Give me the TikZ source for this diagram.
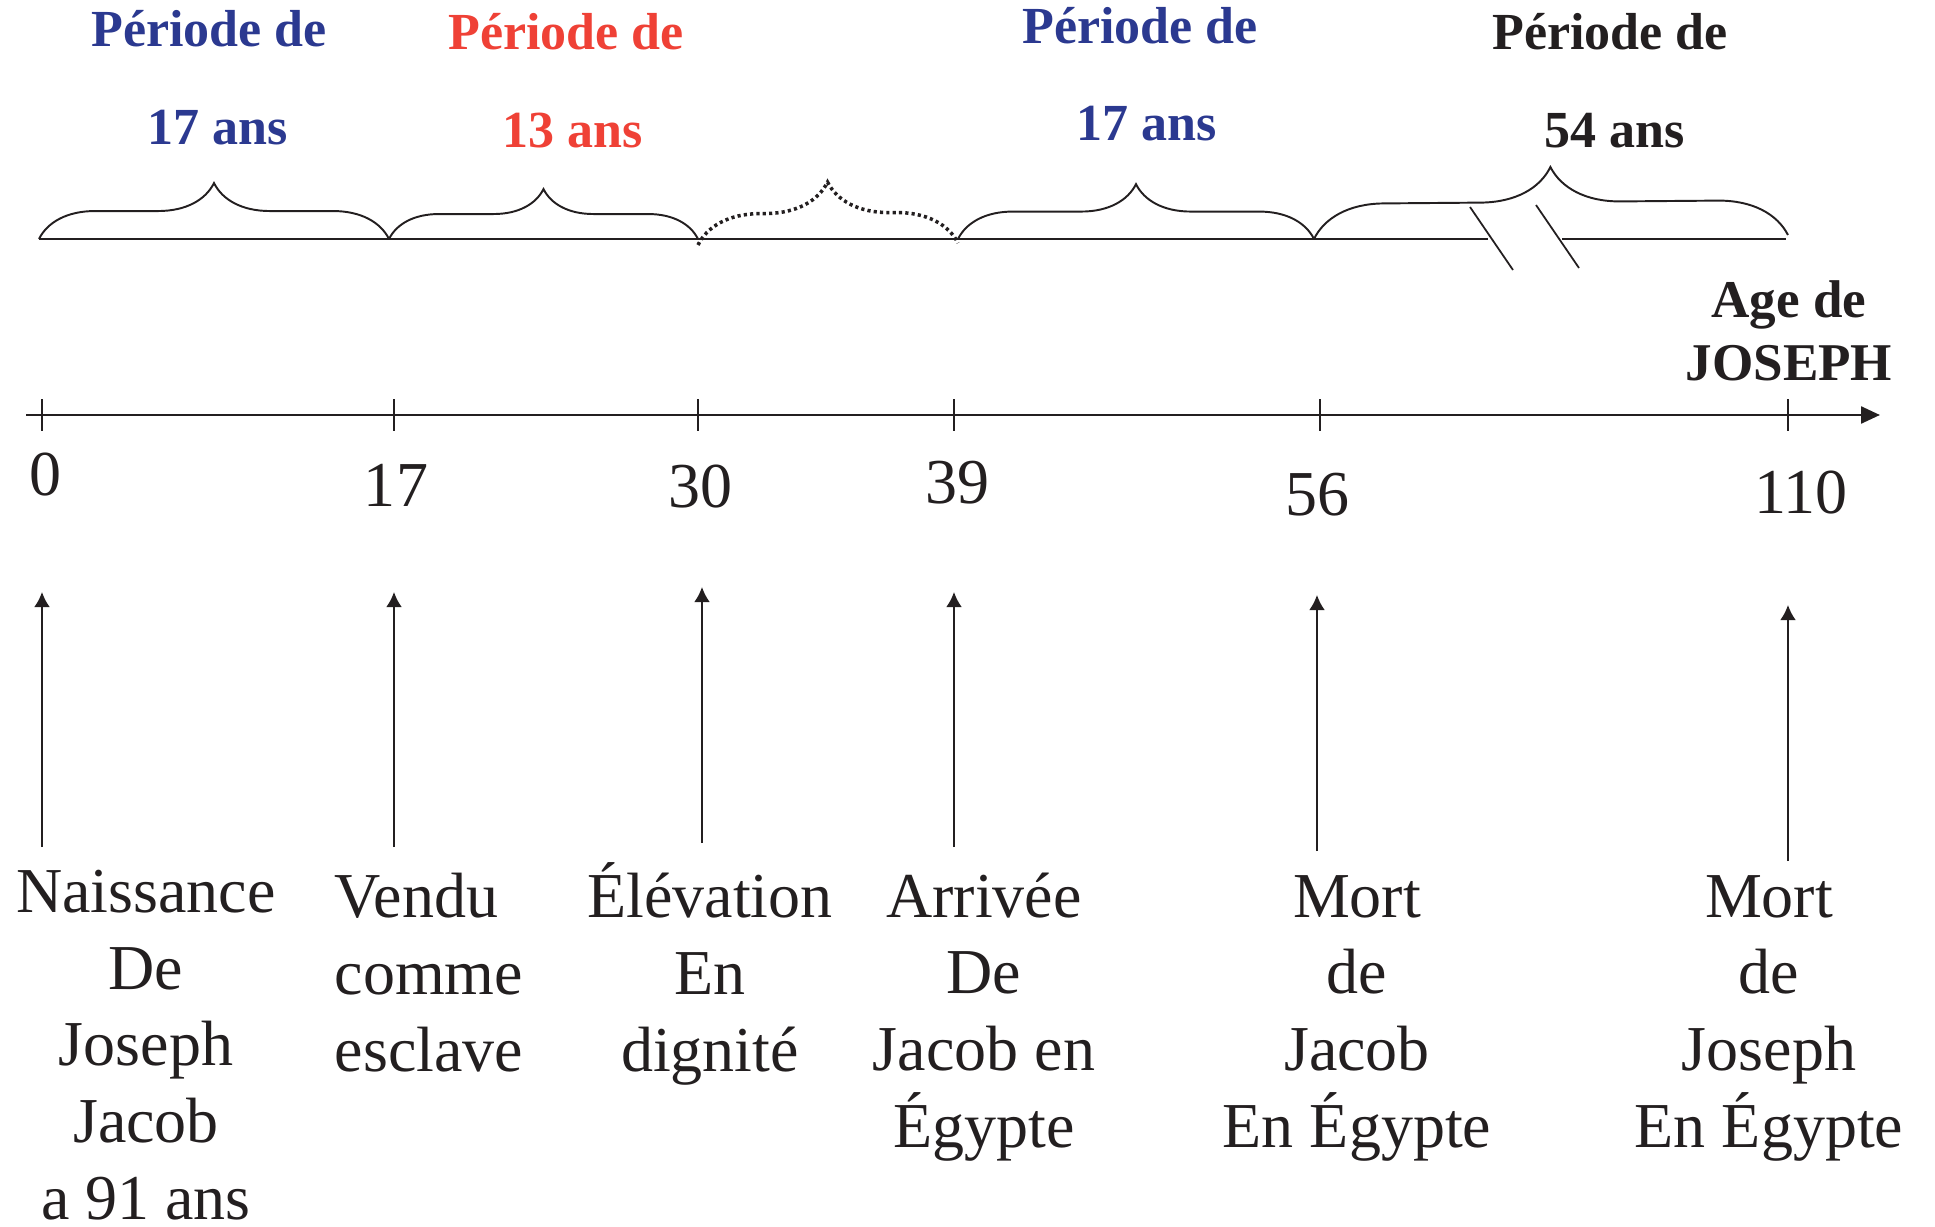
\documentclass[tikz,border=0pt]{standalone}
\usepackage{fontspec}
\setmainfont{Liberation Serif}
\usetikzlibrary{arrows.meta,decorations.pathreplacing}
\definecolor{perblue}{RGB}{43,57,144}
\definecolor{perred}{RGB}{239,65,54}
\definecolor{inkblack}{RGB}{35,31,32}

\begin{document}
\begin{tikzpicture}[x=0.01cm, y=-0.01cm, inkblack,
    every node/.style={inner sep=0pt, text=inkblack},
    period/.style={font=\bfseries\fontsize{14.8}{17}\selectfont, anchor=base},
    event/.style={font=\fontsize{18.2}{21.8}\selectfont, align=center, anchor=base},
    agelbl/.style={font=\fontsize{18.2}{21.8}\selectfont, anchor=base},
    tick/.style={line width=0.45pt},
    evarrow/.style={line width=0.55pt, -{Latex[length=4.3pt,width=4.5pt]}},
    period brace/.style={decorate, decoration={brace, amplitude=#1}, line width=0.55pt},
  ]
            \useasboundingbox (0,0) rectangle (1935,1227);

            % Draw the period labels
            \node[period, text=perblue] (p1a) at (209,47) {Période de};
            \node[period, text=perblue] (p1b) at (218,144) {17 ans};
            \node[period, text=perred] (p2a) at (566,50) {Période de};
            \node[period, text=perred] (p2b) at (573,147) {13 ans};
            \node[period, text=perblue] (p3a) at (1140,43) {Période de};
            \node[period, text=perblue] (p3b) at (1147,140) {17 ans};
            \node[period] (p4a) at (1610,50) {Période de};
            \node[period] (p4b) at (1615,147) {54 ans};

            % Draw the top line with its break
            \coordinate (l0) at (39,239);
            \coordinate (l17) at (389,239);
            \coordinate (l30) at (698,239);
            \coordinate (l39) at (958,239);
            \coordinate (l56) at (1314,239);
            \coordinate (lend) at (1786,239);
            \coordinate (cut1) at (1488,239);
            \coordinate (cut2) at (1562,239);
            \draw[line width=0.7pt] (l0) -- (cut1);
            \draw[line width=0.7pt] (cut2) -- (lend);
            \draw[line width=0.5pt] (1470,207) -- (1513,270);
            \draw[line width=0.5pt] (1536,205) -- (1579,268);

            % Draw the braces over the periods
            \draw[period brace=15.9pt] (l0) -- (l17);
            \draw[period brace=14.2pt] (l17) -- (l30);
            \draw[period brace=17.6pt, line width=1pt, dash pattern=on 0.9pt off 0.9pt] (698,245) -- (958,243);
            \draw[period brace=15.6pt] (l39) -- (l56);
            \draw[period brace=19.9pt] (l56) -- (1788,235);

            % Draw the age axis
            \coordinate (ax0) at (26,415);
            \coordinate (ax1) at (1880,415);
            \draw[line width=0.8pt, -{Triangle[length=5.4pt,width=4.8pt]}] (ax0) -- (ax1);
            \node[font=\bfseries\fontsize{15.1}{17.9}\selectfont, align=center, anchor=base] (axlbl) at (1789,380) {Age de\\JOSEPH};

            % Draw the ticks and their ages
            \draw[tick] (42,399) -- (42,431);
            \draw[tick] (394,399) -- (394,431);
            \draw[tick] (698,399) -- (698,431);
            \draw[tick] (954,399) -- (954,431);
            \draw[tick] (1320,399) -- (1320,431);
            \draw[tick] (1788,399) -- (1788,431);
            \node[agelbl] (t0) at (46,495) {0};
            \node[agelbl] (t17) at (396,506) {17};
            \node[agelbl] (t30) at (700,507) {30};
            \node[agelbl] (t39) at (957,503) {39};
            \node[agelbl] (t56) at (1317,515) {56};
            \node[agelbl] (t110) at (1801,513) {110};

            % Draw the events (placed by the baseline of their last line)
            \node[event, text depth=0pt] (e0) at (146,1219) {Naissance\\De\\Joseph\\Jacob\\a 91 ans};
            \node[event, align=left, anchor=base west] (e17) at (334,1071) {Vendu\\comme\\esclave};
            \node[event] (e30) at (710,1071) {Élévation\\En\\dignité};
            \node[event] (e39) at (984,1147) {Arrivée\\De\\Jacob en\\Égypte};
            \node[event] (e56) at (1357,1147) {Mort\\de\\Jacob\\En Égypte};
            \node[event] (e110) at (1769,1147) {Mort\\de\\Joseph\\En Égypte};

            % Draw the arrows from the events up to the axis
            \coordinate (f0) at (42,847);    \coordinate (h0) at (42,592);
            \coordinate (f17) at (394,847);  \coordinate (h17) at (394,592);
            \coordinate (f30) at (702,843);  \coordinate (h30) at (702,587);
            \coordinate (f39) at (954,847);  \coordinate (h39) at (954,592);
            \coordinate (f56) at (1317,851); \coordinate (h56) at (1317,595);
            \coordinate (f110) at (1788,861); \coordinate (h110) at (1788,605);
            \draw[evarrow] (f0) -- (h0);
            \draw[evarrow] (f17) -- (h17);
            \draw[evarrow] (f30) -- (h30);
            \draw[evarrow] (f39) -- (h39);
            \draw[evarrow] (f56) -- (h56);
            \draw[evarrow] (f110) -- (h110);

        \end{tikzpicture}
\end{document}
